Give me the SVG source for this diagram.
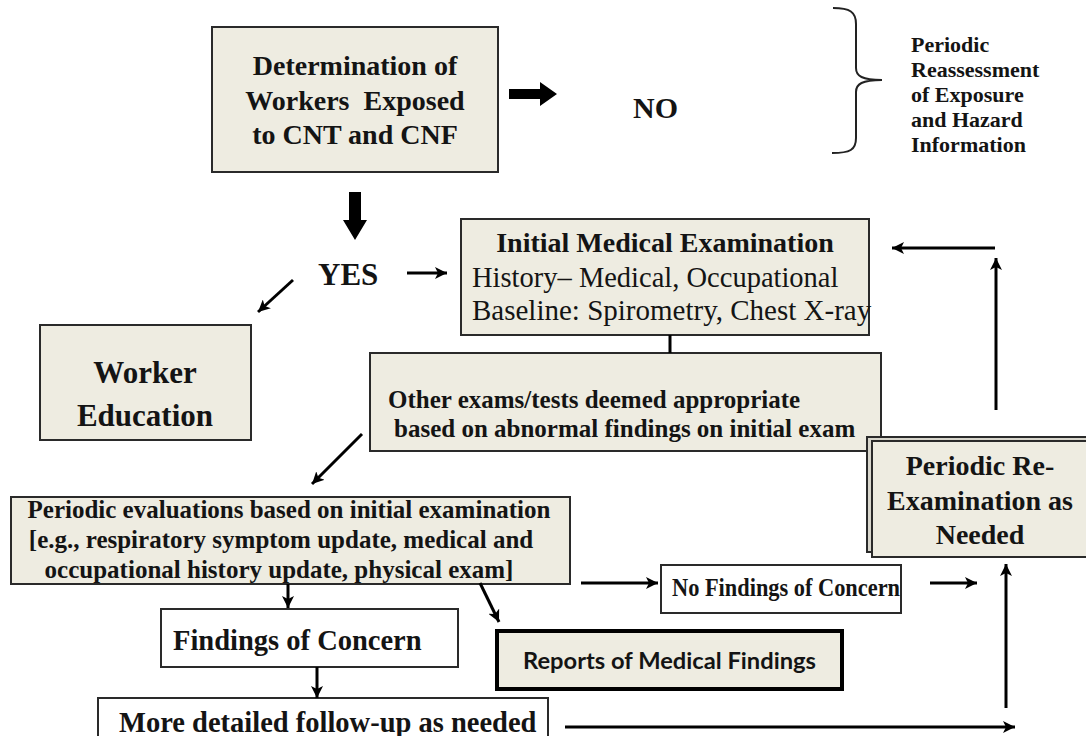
<svg xmlns="http://www.w3.org/2000/svg" width="1086" height="736" viewBox="0 0 1086 736">
<defs>
<style>
.bx{fill:#EEECE1;stroke:#2a2a2a;stroke-width:2}
.wb{fill:#fff;stroke:#2a2a2a;stroke-width:2}
.t{font-family:"Liberation Serif","Times New Roman",serif;font-weight:bold;fill:#141414}
.r{font-family:"Liberation Serif","Times New Roman",serif;font-weight:normal;fill:#141414}
.s{font-family:Lato,"Liberation Sans",Arial,sans-serif;font-weight:bold;fill:#141414}
.c{fill:none;stroke:#000;stroke-width:3}
.ca{fill:none;stroke:#000;stroke-width:3;marker-end:url(#ah)}
.blk{fill:#000}
</style>
<marker id="ah" markerUnits="userSpaceOnUse" markerWidth="14" markerHeight="12" refX="12" refY="6" orient="auto">
<path d="M0,0 L12,6 L0,12 L3,6 Z" fill="#000"/>
</marker>
</defs>
<rect width="1086" height="736" fill="#fff"/>

<g id="determination">
<rect class="bx" x="212" y="27" width="286" height="145"/>
<text class="t" font-size="28" text-anchor="middle" x="355" y="75">Determination of</text>
<text class="t" font-size="28" text-anchor="middle" x="355" y="110" xml:space="preserve">Workers  Exposed</text>
<text class="t" font-size="28" text-anchor="middle" x="355" y="144">to CNT and CNF</text>
</g>

<g id="no">
<text class="t" font-size="30" x="633" y="118">NO</text>
</g>

<g id="reassessment">
<path d="M833,8 C850,8 856,12 856,24 L856,68 C856,76 862,80 882,80 C862,80 856,84 856,92 L856,138 C856,150 850,153 832,153" fill="none" stroke="#222" stroke-width="2"/>
<text class="t" font-size="22" x="911" y="52">Periodic</text>
<text class="t" font-size="22" x="911" y="77">Reassessment</text>
<text class="t" font-size="22" x="911" y="102">of Exposure</text>
<text class="t" font-size="22" x="911" y="127">and Hazard</text>
<text class="t" font-size="22" x="911" y="152">Information</text>
</g>

<g id="yes">
<text class="t" font-size="31" x="318" y="285">YES</text>
</g>

<g id="worker-education">
<rect class="bx" x="40" y="325" width="211" height="115"/>
<text class="t" font-size="31" text-anchor="middle" x="145" y="383">Worker</text>
<text class="t" font-size="31" text-anchor="middle" x="145" y="426">Education</text>
</g>

<g id="initial-exam">
<rect class="bx" x="461" y="219" width="408" height="116"/>
<text class="t" font-size="28" text-anchor="middle" x="665" y="252">Initial Medical Examination</text>
<text class="r" font-size="28.5" x="472" y="287">History– Medical, Occupational</text>
<text class="r" font-size="29" x="472" y="320">Baseline: Spirometry, Chest X-ray</text>
</g>

<g id="other-exams">
<rect class="bx" x="370" y="353" width="511" height="98"/>
<text class="t" font-size="25" x="388" y="408">Other exams/tests deemed appropriate</text>
<text class="t" font-size="25" x="394" y="437">based on abnormal findings on initial exam</text>
</g>

<g id="periodic-reexam">
<rect x="867" y="437" width="225" height="115" fill="#d8d6cc" stroke="#2a2a2a" stroke-width="2"/>
<rect class="bx" x="872" y="441" width="220" height="116" stroke-width="2.5"/>
<text class="t" font-size="28" text-anchor="middle" x="980" y="475">Periodic Re-</text>
<text class="t" font-size="28" text-anchor="middle" x="980" y="510">Examination as</text>
<text class="t" font-size="28" text-anchor="middle" x="980" y="544">Needed</text>
</g>

<g id="periodic-evaluations">
<rect class="bx" x="11" y="497" width="559" height="87"/>
<text class="t" font-size="25" text-anchor="middle" x="289" y="518">Periodic evaluations based on initial examination</text>
<text class="t" font-size="25" text-anchor="middle" x="281" y="548">[e.g., respiratory symptom update, medical and</text>
<text class="t" font-size="25" text-anchor="middle" x="279" y="578">occupational history update, physical exam]</text>
</g>

<g id="no-findings">
<rect class="wb" x="661" y="565" width="240" height="48"/>
<text class="t" font-size="25" x="672" y="596" textLength="228" lengthAdjust="spacingAndGlyphs">No Findings of Concern</text>
</g>

<g id="findings">
<rect class="wb" x="161" y="609" width="297" height="58"/>
<text class="t" font-size="28.5" x="173" y="650">Findings of Concern</text>
</g>

<g id="reports">
<rect x="497" y="631" width="345" height="58" fill="#EEECE1" stroke="#000" stroke-width="4"/>
<text class="s" font-size="23" x="523" y="669" textLength="293" lengthAdjust="spacingAndGlyphs">Reports of Medical Findings</text>
</g>

<g id="follow-up">
<rect class="wb" x="98" y="698" width="450" height="50"/>
<text class="t" font-size="28.5" x="119" y="732">More detailed follow-up as needed</text>
</g>

<g id="connectors">
<polygon class="blk" points="509,89 540,89 540,82 557,94 540,106 540,99 509,99"/>
<polygon class="blk" points="349,192 361,192 361,220 367,220 355,240 343,220 349,220"/>
<line class="ca" x1="407" y1="273" x2="447" y2="273"/>
<line class="ca" x1="293" y1="280" x2="258" y2="312"/>
<line class="c" x1="670" y1="335" x2="670" y2="353"/>
<line class="ca" x1="362" y1="434" x2="312" y2="484"/>
<line class="ca" x1="288" y1="584" x2="288" y2="608"/>
<line class="ca" x1="480" y1="583" x2="499" y2="622" stroke-width="4"/>
<line class="ca" x1="581" y1="583" x2="658" y2="583"/>
<line class="ca" x1="930" y1="583" x2="977" y2="583"/>
<line class="ca" x1="317" y1="667" x2="317" y2="698"/>
<line class="ca" x1="565" y1="727" x2="1015" y2="727"/>
<line class="ca" x1="1006" y1="708" x2="1006" y2="564"/>
<line class="ca" x1="996" y1="410" x2="996" y2="258"/>
<line class="ca" x1="995" y1="248" x2="892" y2="248"/>
</g>
</svg>
